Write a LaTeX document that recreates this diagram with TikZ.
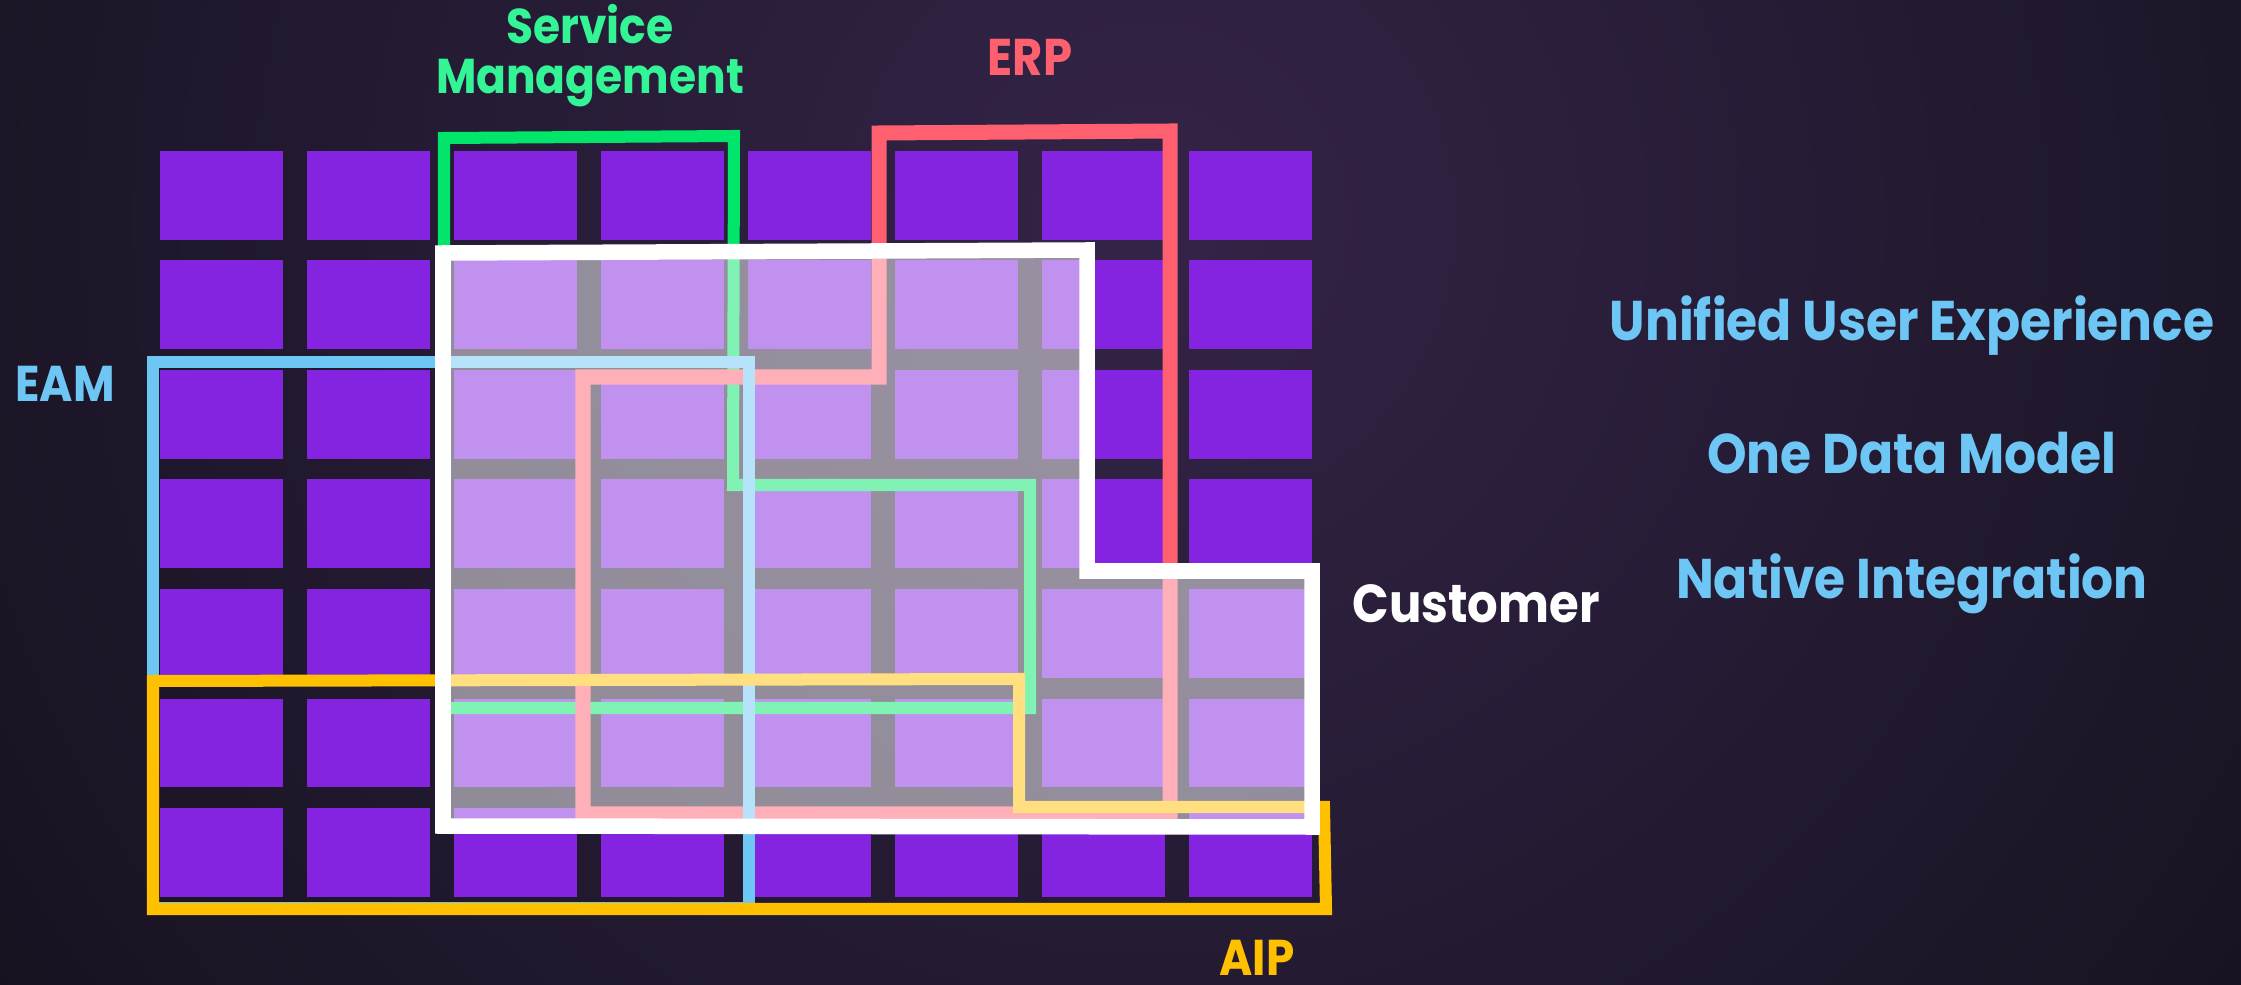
\documentclass[tikz,border=0pt]{standalone}
\usepackage{fontspec}
\setmainfont{Poppins}[FakeStretch=0.9]
\usetikzlibrary{calc}

\definecolor{bgin}{RGB}{52,36,72}
\definecolor{bgout}{RGB}{14,13,20}
\definecolor{cellpurple}{RGB}{132,36,224}
\definecolor{smgreen}{RGB}{0,229,106}
\definecolor{smtext}{RGB}{51,245,150}
\definecolor{erpred}{RGB}{255,96,112}
\definecolor{eamblue}{RGB}{110,198,245}
\definecolor{aipyellow}{RGB}{255,192,0}

\begin{document}
\begin{tikzpicture}[x=0.01cm, y=-0.01cm,
		cell/.style={fill=cellpurple},
		frame/.style={line width=0.12cm, line join=miter},
		lbl/.style={font=\bfseries, inner sep=0pt, anchor=base}]
			%%%%% BACKGROUND %%%%%
			
			\useasboundingbox (0,0) rectangle (2241,985);
			\fill[bgout] (0,0) rectangle (2241,985);
			\begin{scope}
				\clip (0,0) rectangle (2241,985);
				\shade[inner color=bgin, outer color=bgout] (1150,220) circle (1800);
			\end{scope}
			
			%%%%% CELLS %%%%%
			
			\foreach \c in {0,...,7}
				\foreach \r in {0,...,6}
					\fill[cell] ({160+147*\c}, {151+109.5*\r}) rectangle ++(123, 88.7);
			
			%%%%% FRAMES %%%%%
			
			\draw[frame, color=smgreen] (444, 138) -- (734, 136) -- (733, 485) -- (1030, 485) -- (1030, 708) -- (444, 708) -- cycle;
			\draw[frame, line width=0.15cm, color=erpred] (879, 133) -- (1170, 131) -- (1170, 814) -- (583, 814) -- (583, 377) -- (879, 377) -- cycle;
			\draw[frame, color=eamblue] (153, 362) -- (749, 362) -- (749, 908) -- (153, 908) -- cycle;
			\draw[frame, color=aipyellow] (153, 681) -- (1019, 679) -- (1019, 807) -- (1324, 807) -- (1326, 909) -- (153, 909) -- cycle;
			
			%%%%% CUSTOMER %%%%%
			
			\fill[white, opacity=0.5] (443, 253) -- (1087, 250) -- (1087, 571) -- (1312, 571) -- (1312, 827) -- (443, 826) -- cycle;
			\draw[frame, line width=0.155cm, white] (443, 253) -- (1087, 250) -- (1087, 571) -- (1312, 571) -- (1312, 827) -- (443, 826) -- cycle;
			
			%%%%% LABELS %%%%%
			
			\node[lbl, color=smtext, align=center, font=\bfseries\fontsize{13.9}{14.5}\selectfont] (sm) at (590, 94) {Service\\Management};
			\node[lbl, color=erpred, font=\bfseries\fontsize{14.7}{17}\selectfont] (erp) at (1030, 76) {ERP};
			\node[lbl, color=eamblue, font=\bfseries\fontsize{14.3}{17}\selectfont] (eam) at (65, 402) {EAM};
			\node[lbl, color=white, font=\bfseries\fontsize{15.2}{18}\selectfont] (cust) at (1476, 623) {Customer};
			\node[lbl, color=aipyellow, font=\bfseries\fontsize{14.3}{17}\selectfont] (aip) at (1257, 975) {AIP};
			
			\node[lbl, color=eamblue, font=\bfseries\fontsize{15.9}{19}\selectfont] (ux) at (1912, 341) {Unified User Experience};
			\node[lbl, color=eamblue, font=\bfseries\fontsize{15.9}{19}\selectfont] (model) at (1912, 474) {One Data Model};
			\node[lbl, color=eamblue, font=\bfseries\fontsize{15.9}{19}\selectfont] (integ) at (1912, 598) {Native Integration};
			
			%%%%% END %%%%%
\end{tikzpicture}
\end{document}
